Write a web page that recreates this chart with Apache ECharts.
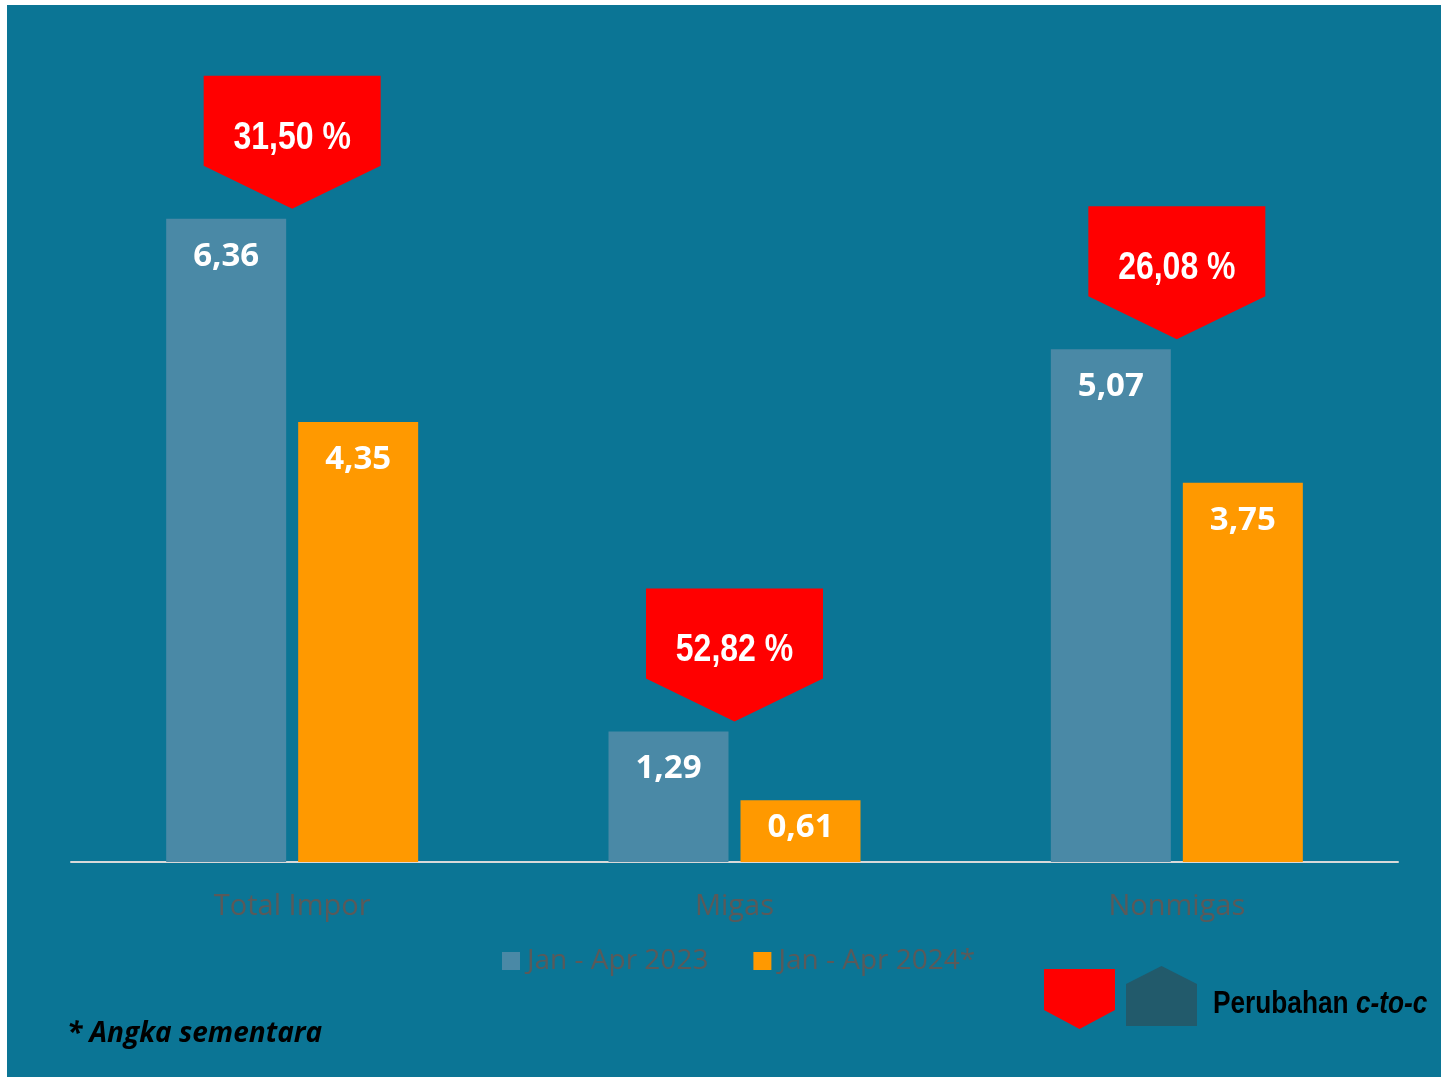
<!DOCTYPE html>
<html>
<head>
<meta charset="utf-8">
<script src="https://cdn.jsdelivr.net/npm/echarts@6/dist/echarts.min.js"></script>
<style>
  html, body { margin: 0; padding: 0; background: #ffffff; }
  #chart { position: absolute; left: 7px; top: 5px; width: 1434px; height: 1072px; }
</style>
</head>
<body>
<div id="chart"></div>
<script>
// Nilai impor (miliar US$) per kategori
const categories = ['Total Impor', 'Migas', 'Nonmigas'];
const seriesNames = ['Jan - Apr 2023', 'Jan - Apr 2024*'];
const values2023 = [6.36, 1.29, 5.07];
const values2024 = [4.35, 0.61, 3.75];
// Perubahan c-to-c (%), ditampilkan sebagai penurunan
const changePct = [31.50, 52.82, 26.08];

const fmt = v => v.toFixed(2).replace('.', ',');
// Liberation Sans squeezed horizontally stands in for a narrow sans
const narrow = '"Liberation Sans", Arial, sans-serif';
const NARROW_X = 0.82;
const labelFont = '"Open Sans", "Noto Sans", sans-serif';

const barLabel = {
  show: true,
  position: 'insideTop',
  distance: 21,
  color: '#ffffff',
  fontFamily: labelFont,
  fontWeight: 'bold',
  fontSize: 33,
  formatter: p => fmt(p.value)
};

// short bars keep their label closer to the top edge
const barData = arr => arr.map(v => v < 1 ? { value: v, label: { distance: 11 } } : v);

const calloutData = categories.map((c, i) => [i, Math.max(values2023[i], values2024[i]), changePct[i]]);

const chart = echarts.init(document.getElementById('chart'));
chart.setOption({
  backgroundColor: '#0B7595',
  animation: false,
  grid: { left: 64, right: 43, top: 48, bottom: 215 },
  legend: {
    data: seriesNames,
    left: 490,
    top: 937,
    itemWidth: 18,
    itemHeight: 18,
    itemGap: 45,
    icon: 'rect',
    textStyle: { color: '#5a5a5a', fontFamily: labelFont, fontSize: 28, padding: [0, 0, 0, 2] }
  },
  xAxis: {
    type: 'category',
    data: categories,
    axisLine: { lineStyle: { color: '#d9d9d9', width: 2 } },
    axisTick: { show: false },
    axisLabel: { color: '#5a5a5a', fontFamily: labelFont, fontSize: 29, margin: 30 }
  },
  yAxis: {
    type: 'value', min: 0, max: 8, interval: 1,
    show: false,
    splitLine: { show: false }
  },
  series: [
    {
      name: seriesNames[0], type: 'bar', data: barData(values2023),
      barWidth: 120, barGap: '10%',
      itemStyle: { color: '#4A89A6' },
      label: barLabel
    },
    {
      name: seriesNames[1], type: 'bar', data: barData(values2024),
      barWidth: 120,
      itemStyle: { color: '#FF9900' },
      label: barLabel
    },
    {
      // arrow-shaped badges showing the percentage change
      type: 'custom',
      data: calloutData,
      z: 5,
      renderItem: (params, api) => {
        const pt = api.coord([api.value(0), api.value(1)]);
        const x = pt[0], tip = pt[1] - 10;
        const hw = 88.5;
        return {
          type: 'group',
          children: [
            {
              type: 'polygon',
              shape: { points: [[x - hw, tip - 133], [x + hw, tip - 133], [x + hw, tip - 43], [x, tip], [x - hw, tip - 43]] },
              style: { fill: '#FF0000' }
            },
            {
              type: 'text',
              x: x, y: tip - 71,
              scaleX: NARROW_X,
              style: {
                text: fmt(api.value(2)) + ' %',
                fill: '#ffffff',
                font: 'bold 39px ' + narrow,
                align: 'center',
                verticalAlign: 'middle'
              }
            }
          ]
        };
      }
    }
  ],
  graphic: [
    {
      type: 'polygon',
      shape: { points: [[1037, 964], [1108, 964], [1108, 1005], [1072.5, 1024], [1037, 1005]] },
      style: { fill: '#FF0000' }
    },
    {
      type: 'polygon',
      shape: { points: [[1154.5, 961], [1190, 979], [1190, 1021], [1119, 1021], [1119, 979]] },
      style: { fill: '#225A6B' }
    },
    {
      type: 'text',
      x: 1206, y: 999,
      scaleX: NARROW_X,
      style: {
        text: '{n|Perubahan }{i|c-to-c}',
        verticalAlign: 'middle',
        rich: {
          n: { fill: '#000000', font: 'bold 32px ' + narrow },
          i: { fill: '#000000', font: 'italic bold 32px ' + narrow }
        }
      }
    },
    {
      type: 'text',
      x: 60, y: 1029,
      style: {
        text: '* Angka sementara',
        fill: '#000000',
        font: 'italic bold 28px ' + labelFont,
        verticalAlign: 'middle'
      }
    }
  ]
});
</script>
</body>
</html>
